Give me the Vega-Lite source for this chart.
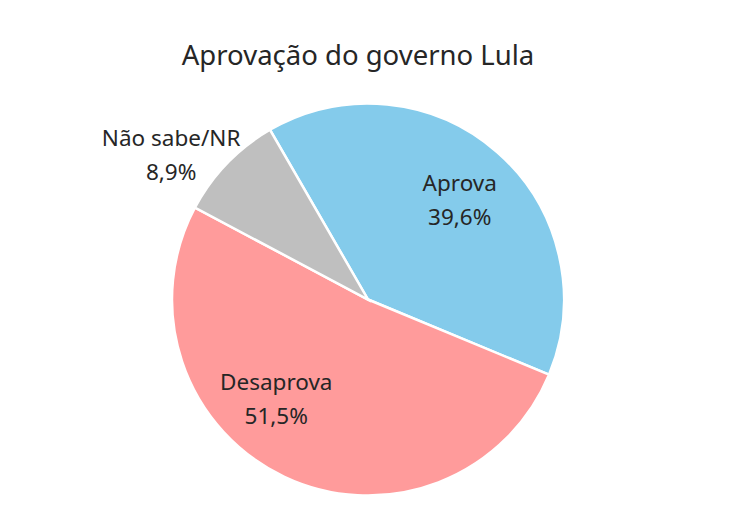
{
  "$schema": "https://vega.github.io/schema/vega-lite/v6.json",
  "width": 736,
  "height": 419,
  "autosize": "none",
  "padding": {"top": 90, "left": 0, "right": 0, "bottom": 0},
  "background": "white",
  "title": {
    "text": "Aprovação do governo Lula",
    "font": "Noto Sans",
    "fontSize": 27.5,
    "fontWeight": "normal",
    "color": "#262626",
    "anchor": "middle",
    "dx": -10,
    "offset": 20
  },
  "data": {
    "values": [
      {"cat": "Aprova", "pct": 39.6, "ord": 1},
      {"cat": "Desaprova", "pct": 51.5, "ord": 2},
      {"cat": "Não sabe/NR", "pct": 8.9, "ord": 3}
    ]
  },
  "transform": [
    {"calculate": "datum.cat + '|' + replace(format(datum.pct, '.1f'), '.', ',') + '%'", "as": "lbl"}
  ],
  "encoding": {
    "theta": {
      "field": "pct",
      "type": "quantitative",
      "stack": true,
      "scale": {"range": [-0.5236, 5.7596]}
    },
    "order": {"field": "ord", "type": "quantitative"}
  },
  "layer": [
    {
      "mark": {"type": "arc", "outerRadius": 196, "stroke": "white", "strokeWidth": 2.5},
      "encoding": {
        "color": {
          "field": "cat",
          "type": "nominal",
          "scale": {
            "domain": ["Aprova", "Desaprova", "Não sabe/NR"],
            "range": ["#84CBEB", "#FF9B9B", "#BFBFBF"]
          },
          "legend": null
        }
      }
    },
    {
      "mark": {"type": "text", "radius": 133, "dx": 4, "dy": -16, "font": "Noto Sans", "fontSize": 22.5, "color": "#262626", "lineBreak": "|", "lineHeight": 34, "baseline": "middle", "align": "center"},
      "encoding": {
        "text": {"condition": {"test": "datum.cat === 'Aprova'", "field": "lbl"}, "value": ""}
      }
    },
    {
      "mark": {"type": "text", "radius": 133, "dx": -35, "dy": -37, "font": "Noto Sans", "fontSize": 22.5, "color": "#262626", "lineBreak": "|", "lineHeight": 34, "baseline": "middle", "align": "center"},
      "encoding": {
        "text": {"condition": {"test": "datum.cat === 'Desaprova'", "field": "lbl"}, "value": ""}
      }
    },
    {
      "mark": {"type": "text", "radius": 243, "dx": -22, "dy": 8, "font": "Noto Sans", "fontSize": 22.5, "color": "#262626", "lineBreak": "|", "lineHeight": 34, "baseline": "middle", "align": "center"},
      "encoding": {
        "text": {"condition": {"test": "datum.cat === 'Não sabe/NR'", "field": "lbl"}, "value": ""}
      }
    }
  ],
  "config": {"view": {"stroke": null}}
}
